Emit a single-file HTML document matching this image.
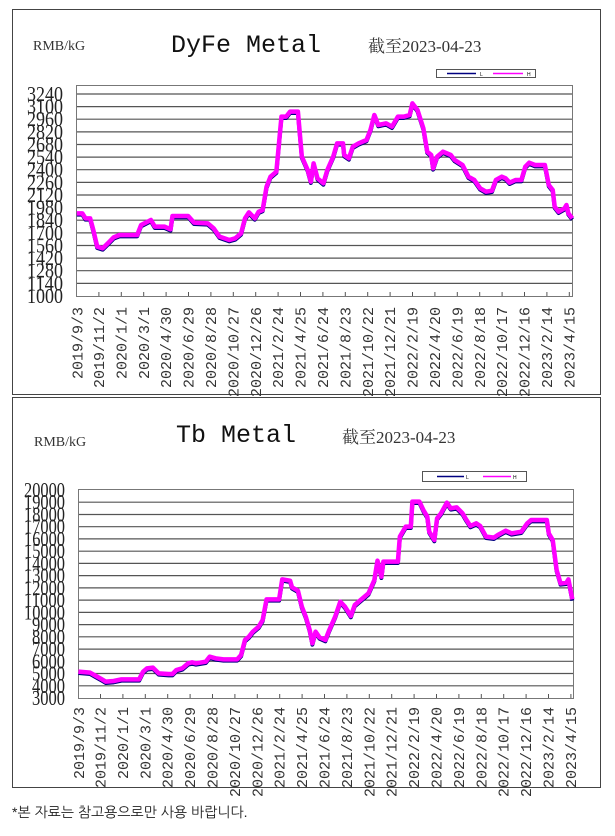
<!DOCTYPE html>
<html><head><meta charset="utf-8"><style>
html,body{margin:0;padding:0;background:#fff;}
svg{display:block;}
.yl{font-family:"Liberation Serif",serif;font-size:21px;fill:#222;}
.xl{font-family:"Liberation Mono",monospace;font-size:15px;fill:#333;}
.ttl{font-family:"Liberation Mono",monospace;font-size:25px;fill:#111;}
.unit{font-family:"Liberation Serif",serif;font-size:14px;fill:#333;}
.date{font-family:"Liberation Serif","Noto Serif CJK SC",serif;font-size:17px;fill:#333;}
.g{stroke:#555;stroke-width:1.2;}
</style></head><body>
<svg width="615" height="836" viewBox="0 0 615 836" xmlns="http://www.w3.org/2000/svg">
<rect x="12.5" y="9.5" width="588" height="385" fill="none" stroke="#444" stroke-width="1"/>
<rect x="12.5" y="397.5" width="588" height="390" fill="none" stroke="#444" stroke-width="1"/>

<!-- TOP CHART -->
<text class="unit" x="33" y="50">RMB/kG</text>
<text class="ttl" x="171" y="52">DyFe Metal</text>
<text class="date" x="368" y="52">截至2023-04-23</text>
<rect x="436.5" y="69.5" width="99" height="8" fill="#fff" stroke="#555"/>
<line x1="447" y1="73.5" x2="476" y2="73.5" stroke="#000080" stroke-width="1.5"/>
<text x="480" y="76" font-size="5" font-family="Liberation Sans">L</text>
<line x1="493" y1="73.5" x2="523" y2="73.5" stroke="#ff00ff" stroke-width="1.5"/>
<text x="527" y="76" font-size="5" font-family="Liberation Sans">H</text>
<rect x="76.5" y="85.5" width="496" height="211" fill="#fff" stroke="#777"/>
<g class="g">
<line x1="77" x2="572" y1="94" y2="94"/><line x1="77" x2="572" y1="106.6" y2="106.6"/><line x1="77" x2="572" y1="119.2" y2="119.2"/><line x1="77" x2="572" y1="131.9" y2="131.9"/><line x1="77" x2="572" y1="144.5" y2="144.5"/><line x1="77" x2="572" y1="157.1" y2="157.1"/><line x1="77" x2="572" y1="169.7" y2="169.7"/><line x1="77" x2="572" y1="182.4" y2="182.4"/><line x1="77" x2="572" y1="195" y2="195"/><line x1="77" x2="572" y1="207.6" y2="207.6"/><line x1="77" x2="572" y1="220.2" y2="220.2"/><line x1="77" x2="572" y1="232.9" y2="232.9"/><line x1="77" x2="572" y1="245.5" y2="245.5"/><line x1="77" x2="572" y1="258.1" y2="258.1"/><line x1="77" x2="572" y1="270.7" y2="270.7"/><line x1="77" x2="572" y1="283.4" y2="283.4"/>
</g>
<g class="yl" text-anchor="end">
<text x="63" y="101" textLength="36" lengthAdjust="spacingAndGlyphs">3240</text><text x="63" y="113.6" textLength="36" lengthAdjust="spacingAndGlyphs">3100</text><text x="63" y="126.2" textLength="36" lengthAdjust="spacingAndGlyphs">2960</text><text x="63" y="138.9" textLength="36" lengthAdjust="spacingAndGlyphs">2820</text><text x="63" y="151.5" textLength="36" lengthAdjust="spacingAndGlyphs">2680</text><text x="63" y="164.1" textLength="36" lengthAdjust="spacingAndGlyphs">2540</text><text x="63" y="176.7" textLength="36" lengthAdjust="spacingAndGlyphs">2400</text><text x="63" y="189.4" textLength="36" lengthAdjust="spacingAndGlyphs">2260</text><text x="63" y="202" textLength="36" lengthAdjust="spacingAndGlyphs">2120</text><text x="63" y="214.6" textLength="36" lengthAdjust="spacingAndGlyphs">1980</text><text x="63" y="227.2" textLength="36" lengthAdjust="spacingAndGlyphs">1840</text><text x="63" y="239.9" textLength="36" lengthAdjust="spacingAndGlyphs">1700</text><text x="63" y="252.5" textLength="36" lengthAdjust="spacingAndGlyphs">1560</text><text x="63" y="265.1" textLength="36" lengthAdjust="spacingAndGlyphs">1420</text><text x="63" y="277.7" textLength="36" lengthAdjust="spacingAndGlyphs">1280</text><text x="63" y="290.4" textLength="36" lengthAdjust="spacingAndGlyphs">1140</text><text x="63" y="303" textLength="36" lengthAdjust="spacingAndGlyphs">1000</text>
</g>
<g stroke="#555" stroke-width="1">
<line x1="98.9" x2="98.9" y1="292" y2="296"/><line x1="121.3" x2="121.3" y1="292" y2="296"/><line x1="143.7" x2="143.7" y1="292" y2="296"/><line x1="166.1" x2="166.1" y1="292" y2="296"/><line x1="188.5" x2="188.5" y1="292" y2="296"/><line x1="210.9" x2="210.9" y1="292" y2="296"/><line x1="233.3" x2="233.3" y1="292" y2="296"/><line x1="255.7" x2="255.7" y1="292" y2="296"/><line x1="278.1" x2="278.1" y1="292" y2="296"/><line x1="300.5" x2="300.5" y1="292" y2="296"/><line x1="322.9" x2="322.9" y1="292" y2="296"/><line x1="345.3" x2="345.3" y1="292" y2="296"/><line x1="367.7" x2="367.7" y1="292" y2="296"/><line x1="390.1" x2="390.1" y1="292" y2="296"/><line x1="412.5" x2="412.5" y1="292" y2="296"/><line x1="434.9" x2="434.9" y1="292" y2="296"/><line x1="457.3" x2="457.3" y1="292" y2="296"/><line x1="479.7" x2="479.7" y1="292" y2="296"/><line x1="502.1" x2="502.1" y1="292" y2="296"/><line x1="524.5" x2="524.5" y1="292" y2="296"/><line x1="546.9" x2="546.9" y1="292" y2="296"/><line x1="569.3" x2="569.3" y1="292" y2="296"/>
</g>
<g transform="scale(0.392 0.33333)" fill="none" stroke-linejoin="round">
<polyline vector-effect="non-scaling-stroke" stroke="#000080" stroke-width="4" transform="translate(0 4)" points="196,640 210,640 218,655 230,655 238,690 248,740 262,745 275,730 290,712 305,705 350,705 360,675 385,660 395,680 420,680 435,688 440,648 480,648 495,668 530,670 545,685 560,710 585,720 600,715 615,700 625,655 635,637 650,655 660,635 670,630 680,560 690,530 705,515 718,350 730,350 740,335 760,335 770,470 785,510 793,545 800,490 810,535 825,550 835,510 850,470 860,430 875,430 878,465 890,475 900,440 915,430 935,420 945,390 955,345 965,375 985,370 1000,380 1015,350 1030,350 1045,345 1052,310 1065,330 1080,385 1090,455 1100,465 1105,505 1115,470 1130,455 1150,465 1160,480 1180,495 1195,530 1210,540 1225,565 1240,575 1255,572 1265,540 1280,530 1290,535 1300,548 1315,540 1330,540 1340,500 1350,488 1365,495 1390,495 1400,555 1410,570 1415,620 1425,635 1440,625 1445,615 1450,640 1460,655"/>
<polyline vector-effect="non-scaling-stroke" stroke="#ff00ff" stroke-width="4.5" points="196,640 210,640 218,655 230,655 238,690 248,740 262,745 275,730 290,712 305,705 350,705 360,675 385,660 395,680 420,680 435,688 440,648 480,648 495,668 530,670 545,685 560,710 585,720 600,715 615,700 625,655 635,637 650,655 660,635 670,630 680,560 690,530 705,515 718,350 730,350 740,335 760,335 770,470 785,510 793,545 800,490 810,535 825,550 835,510 850,470 860,430 875,430 878,465 890,475 900,440 915,430 935,420 945,390 955,345 965,375 985,370 1000,380 1015,350 1030,350 1045,345 1052,310 1065,330 1080,385 1090,455 1100,465 1105,505 1115,470 1130,455 1150,465 1160,480 1180,495 1195,530 1210,540 1225,565 1240,575 1255,572 1265,540 1280,530 1290,535 1300,548 1315,540 1330,540 1340,500 1350,488 1365,495 1390,495 1400,555 1410,570 1415,620 1425,635 1440,625 1445,615 1450,640 1460,655"/>
</g>
<g class="xl" text-anchor="end">
<text transform="translate(82.5 307) rotate(-90)">2019/9/3</text><text transform="translate(104 307) rotate(-90)">2019/11/2</text><text transform="translate(126.4 307) rotate(-90)">2020/1/1</text><text transform="translate(148.8 307) rotate(-90)">2020/3/1</text><text transform="translate(171.2 307) rotate(-90)">2020/4/30</text><text transform="translate(193.6 307) rotate(-90)">2020/6/29</text><text transform="translate(216 307) rotate(-90)">2020/8/28</text><text transform="translate(238.4 307) rotate(-90)">2020/10/27</text><text transform="translate(260.8 307) rotate(-90)">2020/12/26</text><text transform="translate(283.2 307) rotate(-90)">2021/2/24</text><text transform="translate(305.6 307) rotate(-90)">2021/4/25</text><text transform="translate(328 307) rotate(-90)">2021/6/24</text><text transform="translate(350.4 307) rotate(-90)">2021/8/23</text><text transform="translate(372.8 307) rotate(-90)">2021/10/22</text><text transform="translate(395.2 307) rotate(-90)">2021/12/21</text><text transform="translate(417.6 307) rotate(-90)">2022/2/19</text><text transform="translate(440 307) rotate(-90)">2022/4/20</text><text transform="translate(462.4 307) rotate(-90)">2022/6/19</text><text transform="translate(484.8 307) rotate(-90)">2022/8/18</text><text transform="translate(507.2 307) rotate(-90)">2022/10/17</text><text transform="translate(529.6 307) rotate(-90)">2022/12/16</text><text transform="translate(552 307) rotate(-90)">2023/2/14</text><text transform="translate(574.4 307) rotate(-90)">2023/4/15</text>
</g>

<!-- BOTTOM CHART -->
<text class="unit" x="34" y="446">RMB/kG</text>
<text class="ttl" x="176" y="442">Tb Metal</text>
<text class="date" x="342" y="443">截至2023-04-23</text>
<rect x="422.5" y="471.5" width="104" height="10" fill="#fff" stroke="#555"/>
<line x1="437" y1="476.5" x2="464" y2="476.5" stroke="#000080" stroke-width="1.5"/>
<text x="466" y="479" font-size="5" font-family="Liberation Sans">L</text>
<line x1="483" y1="476.5" x2="511" y2="476.5" stroke="#ff00ff" stroke-width="1.5"/>
<text x="513" y="479" font-size="5" font-family="Liberation Sans">H</text>
<rect x="78.5" y="489.5" width="495" height="209" fill="#fff" stroke="#777"/>
<g class="g">
<line x1="79" x2="573" y1="502.2" y2="502.2"/><line x1="79" x2="573" y1="514.5" y2="514.5"/><line x1="79" x2="573" y1="526.7" y2="526.7"/><line x1="79" x2="573" y1="538.9" y2="538.9"/><line x1="79" x2="573" y1="551.2" y2="551.2"/><line x1="79" x2="573" y1="563.4" y2="563.4"/><line x1="79" x2="573" y1="575.6" y2="575.6"/><line x1="79" x2="573" y1="587.9" y2="587.9"/><line x1="79" x2="573" y1="600.1" y2="600.1"/><line x1="79" x2="573" y1="612.4" y2="612.4"/><line x1="79" x2="573" y1="624.6" y2="624.6"/><line x1="79" x2="573" y1="636.8" y2="636.8"/><line x1="79" x2="573" y1="649.1" y2="649.1"/><line x1="79" x2="573" y1="661.3" y2="661.3"/><line x1="79" x2="573" y1="673.5" y2="673.5"/><line x1="79" x2="573" y1="685.8" y2="685.8"/>
</g>
<g class="yl" text-anchor="end">
<text x="65" y="497" textLength="41" lengthAdjust="spacingAndGlyphs">20000</text><text x="65" y="509.2" textLength="41" lengthAdjust="spacingAndGlyphs">19000</text><text x="65" y="521.5" textLength="41" lengthAdjust="spacingAndGlyphs">18000</text><text x="65" y="533.7" textLength="41" lengthAdjust="spacingAndGlyphs">17000</text><text x="65" y="545.9" textLength="41" lengthAdjust="spacingAndGlyphs">16000</text><text x="65" y="558.2" textLength="41" lengthAdjust="spacingAndGlyphs">15000</text><text x="65" y="570.4" textLength="41" lengthAdjust="spacingAndGlyphs">14000</text><text x="65" y="582.6" textLength="41" lengthAdjust="spacingAndGlyphs">13000</text><text x="65" y="594.9" textLength="41" lengthAdjust="spacingAndGlyphs">12000</text><text x="65" y="607.1" textLength="41" lengthAdjust="spacingAndGlyphs">11000</text><text x="65" y="619.4" textLength="41" lengthAdjust="spacingAndGlyphs">10000</text><text x="65" y="631.6" textLength="33" lengthAdjust="spacingAndGlyphs">9000</text><text x="65" y="643.8" textLength="33" lengthAdjust="spacingAndGlyphs">8000</text><text x="65" y="656.1" textLength="33" lengthAdjust="spacingAndGlyphs">7000</text><text x="65" y="668.3" textLength="33" lengthAdjust="spacingAndGlyphs">6000</text><text x="65" y="680.5" textLength="33" lengthAdjust="spacingAndGlyphs">5000</text><text x="65" y="692.8" textLength="33" lengthAdjust="spacingAndGlyphs">4000</text><text x="65" y="705" textLength="33" lengthAdjust="spacingAndGlyphs">3000</text>
</g>
<g stroke="#555" stroke-width="1">
<line x1="100.5" x2="100.5" y1="694" y2="698"/><line x1="122.9" x2="122.9" y1="694" y2="698"/><line x1="145.3" x2="145.3" y1="694" y2="698"/><line x1="167.7" x2="167.7" y1="694" y2="698"/><line x1="190.1" x2="190.1" y1="694" y2="698"/><line x1="212.5" x2="212.5" y1="694" y2="698"/><line x1="234.9" x2="234.9" y1="694" y2="698"/><line x1="257.3" x2="257.3" y1="694" y2="698"/><line x1="279.7" x2="279.7" y1="694" y2="698"/><line x1="302.1" x2="302.1" y1="694" y2="698"/><line x1="324.5" x2="324.5" y1="694" y2="698"/><line x1="346.9" x2="346.9" y1="694" y2="698"/><line x1="369.3" x2="369.3" y1="694" y2="698"/><line x1="391.7" x2="391.7" y1="694" y2="698"/><line x1="414.1" x2="414.1" y1="694" y2="698"/><line x1="436.5" x2="436.5" y1="694" y2="698"/><line x1="458.9" x2="458.9" y1="694" y2="698"/><line x1="481.3" x2="481.3" y1="694" y2="698"/><line x1="503.7" x2="503.7" y1="694" y2="698"/><line x1="526.1" x2="526.1" y1="694" y2="698"/><line x1="548.5" x2="548.5" y1="694" y2="698"/><line x1="570.9" x2="570.9" y1="694" y2="698"/>
</g>
<g transform="translate(0 400) scale(0.392 0.33333)" fill="none" stroke-linejoin="round">
<polyline vector-effect="non-scaling-stroke" stroke="#000080" stroke-width="4" transform="translate(0 4)" points="200,815 230,818 245,828 260,838 270,845 290,843 310,838 355,838 365,815 375,805 390,803 405,820 430,822 440,822 450,810 465,805 480,790 490,787 500,790 525,785 535,770 550,775 570,778 605,778 615,765 625,720 635,710 645,695 660,680 670,660 680,598 712,598 720,538 740,542 745,562 760,572 770,620 780,650 790,690 797,730 805,695 815,712 830,720 840,690 855,650 868,605 880,620 895,648 905,615 920,600 940,580 955,540 963,482 973,530 978,485 1015,485 1020,410 1035,380 1048,380 1052,305 1070,305 1080,330 1090,350 1095,395 1108,420 1115,355 1125,340 1140,308 1150,325 1165,322 1180,340 1190,360 1200,378 1215,370 1225,378 1240,410 1260,413 1270,405 1290,392 1305,400 1330,395 1345,370 1355,360 1395,360 1400,400 1410,420 1420,510 1430,550 1445,548 1450,538 1460,598"/>
<polyline vector-effect="non-scaling-stroke" stroke="#ff00ff" stroke-width="4.5" points="200,815 230,818 245,828 260,838 270,845 290,843 310,838 355,838 365,815 375,805 390,803 405,820 430,822 440,822 450,810 465,805 480,790 490,787 500,790 525,785 535,770 550,775 570,778 605,778 615,765 625,720 635,710 645,695 660,680 670,660 680,598 712,598 720,538 740,542 745,562 760,572 770,620 780,650 790,690 797,730 805,695 815,712 830,720 840,690 855,650 868,605 880,620 895,648 905,615 920,600 940,580 955,540 963,482 973,530 978,485 1015,485 1020,410 1035,380 1048,380 1052,305 1070,305 1080,330 1090,350 1095,395 1108,420 1115,355 1125,340 1140,308 1150,325 1165,322 1180,340 1190,360 1200,378 1215,370 1225,378 1240,410 1260,413 1270,405 1290,392 1305,400 1330,395 1345,370 1355,360 1395,360 1400,400 1410,420 1420,510 1430,550 1445,548 1450,538 1460,598"/>
</g>
<g class="xl" text-anchor="end">
<text transform="translate(84 707) rotate(-90)">2019/9/3</text><text transform="translate(105.5 707) rotate(-90)">2019/11/2</text><text transform="translate(127.9 707) rotate(-90)">2020/1/1</text><text transform="translate(150.3 707) rotate(-90)">2020/3/1</text><text transform="translate(172.7 707) rotate(-90)">2020/4/30</text><text transform="translate(195.1 707) rotate(-90)">2020/6/29</text><text transform="translate(217.5 707) rotate(-90)">2020/8/28</text><text transform="translate(239.9 707) rotate(-90)">2020/10/27</text><text transform="translate(262.3 707) rotate(-90)">2020/12/26</text><text transform="translate(284.7 707) rotate(-90)">2021/2/24</text><text transform="translate(307.1 707) rotate(-90)">2021/4/25</text><text transform="translate(329.5 707) rotate(-90)">2021/6/24</text><text transform="translate(351.9 707) rotate(-90)">2021/8/23</text><text transform="translate(374.3 707) rotate(-90)">2021/10/22</text><text transform="translate(396.7 707) rotate(-90)">2021/12/21</text><text transform="translate(419.1 707) rotate(-90)">2022/2/19</text><text transform="translate(441.5 707) rotate(-90)">2022/4/20</text><text transform="translate(463.9 707) rotate(-90)">2022/6/19</text><text transform="translate(486.3 707) rotate(-90)">2022/8/18</text><text transform="translate(508.7 707) rotate(-90)">2022/10/17</text><text transform="translate(531.1 707) rotate(-90)">2022/12/16</text><text transform="translate(553.5 707) rotate(-90)">2023/2/14</text><text transform="translate(575.9 707) rotate(-90)">2023/4/15</text>
</g>

<text x="12" y="817" font-family="'Liberation Sans','NanumGothic','Noto Sans CJK KR',sans-serif" font-size="14" fill="#222">*본 자료는 참고용으로만 사용 바랍니다.</text>
</svg>
</body></html>
